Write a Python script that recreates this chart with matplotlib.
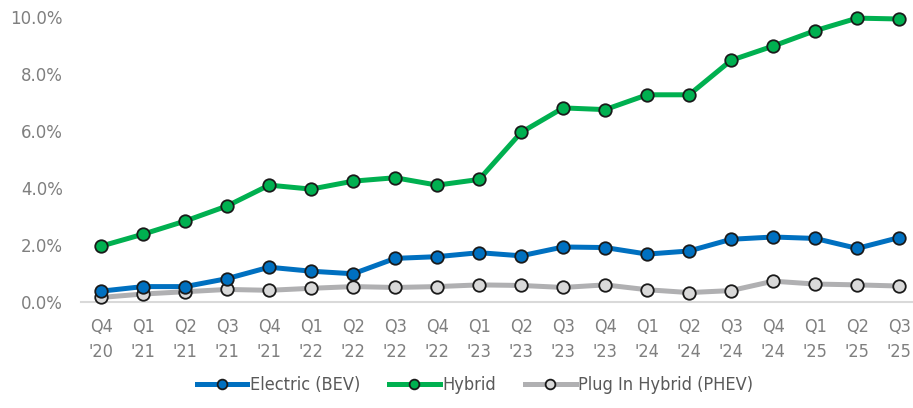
import matplotlib
matplotlib.use("Agg")
import matplotlib.pyplot as plt
from matplotlib.ticker import FuncFormatter

# quarterly share of sales, percent
quarters = ["Q4\n'20", "Q1\n'21", "Q2\n'21", "Q3\n'21", "Q4\n'21",
            "Q1\n'22", "Q2\n'22", "Q3\n'22", "Q4\n'22",
            "Q1\n'23", "Q2\n'23", "Q3\n'23", "Q4\n'23",
            "Q1\n'24", "Q2\n'24", "Q3\n'24", "Q4\n'24",
            "Q1\n'25", "Q2\n'25", "Q3\n'25"]
bev = [0.37, 0.53, 0.53, 0.81, 1.21, 1.07, 0.98, 1.52, 1.58,
       1.72, 1.61, 1.92, 1.90, 1.67, 1.78, 2.19, 2.27, 2.22, 1.87, 2.25]
hybrid = [1.95, 2.37, 2.83, 3.36, 4.09, 3.95, 4.23, 4.35, 4.09,
          4.29, 5.94, 6.80, 6.74, 7.26, 7.26, 8.47, 8.97, 9.51, 9.95, 9.92]
phev = [0.15, 0.27, 0.35, 0.43, 0.40, 0.47, 0.53, 0.50, 0.53,
        0.59, 0.57, 0.50, 0.59, 0.42, 0.32, 0.39, 0.72, 0.62, 0.59, 0.55]

grey_txt = "#7f7f7f"

fig = plt.figure(figsize=(9.13, 4.08), dpi=100)
ax = fig.add_axes([81 / 913, 1 - 301.7 / 408, 832 / 913, 285 / 408])

x = list(range(len(quarters)))
ax.plot(x, bev, color="#0070C0", lw=3.6, marker="o", ms=9,
        mfc="#0070C0", mec="#1a1a1a", mew=1.3, label="Electric (BEV)",
        zorder=3, clip_on=False)
ax.plot(x, hybrid, color="#00B050", lw=3.6, marker="o", ms=9,
        mfc="#00B050", mec="#1a1a1a", mew=1.3, label="Hybrid",
        zorder=3, clip_on=False)
ax.plot(x, phev, color="#B0B0B2", lw=3.6, marker="o", ms=9,
        mfc="#D9D9D9", mec="#1a1a1a", mew=1.3, label="Plug In Hybrid (PHEV)",
        zorder=2, clip_on=False)

ax.set_xlim(-0.48, 19.33)
ax.set_ylim(0, 10)
ax.set_yticks([0, 2, 4, 6, 8, 10])
ax.yaxis.set_major_formatter(FuncFormatter(lambda v, p: f"{v:.1f}%"))
ax.set_xticks(x)
ax.set_xticklabels(quarters, fontsize=13, color=grey_txt,
                   linespacing=1.45, fontstretch="condensed")
for lab in ax.get_yticklabels():
    lab.set_fontsize(12)
    lab.set_color(grey_txt)

for s in ["top", "right", "left"]:
    ax.spines[s].set_visible(False)
ax.spines["bottom"].set_color("#D9D9D9")
ax.spines["bottom"].set_linewidth(1.5)
ax.spines["bottom"].set_zorder(1)
ax.tick_params(axis="both", length=0)
ax.tick_params(axis="y", pad=13)
ax.tick_params(axis="x", pad=12)

leg = ax.legend(loc="center", bbox_to_anchor=(475 / 913, 23 / 408),
                bbox_transform=fig.transFigure, ncol=3, frameon=False,
                handlelength=2.8, handletextpad=0.15, columnspacing=1.6,
                prop={"size": 13, "stretch": "condensed"})
for t in leg.get_texts():
    t.set_color("#595959")
for h in leg.legend_handles:
    h.set_markersize(7)

fig.savefig("out.png", dpi=100)
